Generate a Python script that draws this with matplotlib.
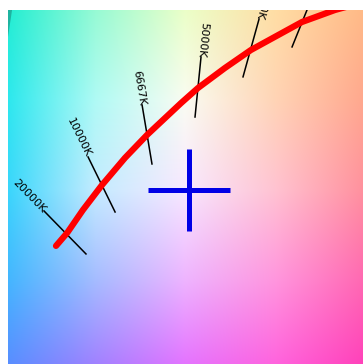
import numpy as np
import matplotlib
matplotlib.use('Agg')
import matplotlib.pyplot as plt
from matplotlib.patches import Polygon

# Planckian locus (CIE 1931 x, y)
locus_x = [0.2500, 0.2574, 0.2680, 0.2807, 0.2960, 0.3107, 0.3334, 0.3447,
           0.3627, 0.3800, 0.4140, 0.4360, 0.4600]
locus_y = [0.2483, 0.2568, 0.2720, 0.2884, 0.3062, 0.3213, 0.3423, 0.3522,
           0.3654, 0.3772, 0.3956, 0.4035, 0.4100]

# iso-temperature lines: label, (x, y) upper end, (x, y) lower end
iso_labels = ['20000K', '10000K', '6667K', '5000K', '4000K', '3333K']
iso_start = [(0.2420, 0.2713), (0.2714, 0.3068), (0.3074, 0.3410),
             (0.3467, 0.3726), (0.3854, 0.3976), (0.4224, 0.4158)]
iso_end = [(0.2700, 0.2430), (0.2894, 0.2706), (0.3140, 0.3022),
           (0.3427, 0.3331), (0.3747, 0.3595), (0.4074, 0.3792)]

# marked point
point_x = [0.3384]
point_y = [0.2851]

# darker patch at the top left corner
patch_x = [0.2180, 0.2207, 0.2180]
patch_y = [0.4035, 0.4035, 0.3858]

x_lim = (0.2180, 0.4547)
y_lim = (0.1706, 0.4035)

# diagram background colours sampled on a coarse grid (top row first)
bg_x = [0.2180, 0.2760, 0.3360, 0.3960, 0.4547]
bg_y = [0.4035, 0.3443, 0.2851, 0.2259, 0.1706]
bg_rgb = np.array([
    [(35, 238, 210), (150, 250, 212), (235, 255, 200), (255, 222, 165), (255, 186, 135)],
    [(45, 232, 238), (175, 250, 245), (250, 252, 242), (255, 212, 182), (255, 168, 142)],
    [(58, 214, 252), (195, 235, 255), (248, 232, 255), (255, 195, 210), (255, 145, 158)],
    [(68, 182, 255), (165, 188, 255), (238, 180, 255), (255, 150, 222), (255, 105, 178)],
    [(88, 142, 255), (160, 130, 255), (228, 116, 255), (255, 100, 222), (255, 66, 186)],
]) / 255.0


def background(nx=360, ny=360):
    gx = np.linspace(x_lim[0], x_lim[1], nx)
    gy = np.linspace(y_lim[1], y_lim[0], ny)
    # along x for every sampled row, then along y
    rows = np.stack([[np.interp(gx, bg_x, bg_rgb[r, :, c]) for c in range(3)]
                     for r in range(len(bg_y))])          # (rows, 3, nx)
    ys = bg_y[::-1]
    img = np.empty((ny, nx, 3))
    for c in range(3):
        for i in range(nx):
            img[:, i, c] = np.interp(gy, ys, rows[::-1, c, i])
    return img


fig = plt.figure(figsize=(3.63, 3.64), dpi=100)
ax = fig.add_axes([8 / 363, 0, 355 / 363, 354 / 364])
ax.set_xlim(*x_lim)
ax.set_ylim(*y_lim)
ax.axis('off')

ax.imshow(background(), origin='upper', extent=(*x_lim, *y_lim),
          aspect='auto', interpolation='bilinear', zorder=0)
ax.add_patch(Polygon(list(zip(patch_x, patch_y)), closed=True,
                     facecolor='#1fb3a0', edgecolor='none', zorder=1))

ax.plot(locus_x, locus_y, color='red', lw=4.5, solid_capstyle='round', zorder=3)

for label, p0, p1 in zip(iso_labels, iso_start, iso_end):
    ax.plot([p0[0], p1[0]], [p0[1], p1[1]], color='black', lw=1.1, zorder=2)
    d0 = ax.transData.transform(p0)
    d1 = ax.transData.transform(p1)
    angle = np.degrees(np.arctan2(d1[1] - d0[1], d1[0] - d0[0]))
    ax.text(p0[0], p0[1], label, rotation=angle, rotation_mode='anchor',
            ha='right', va='center', fontsize=8, clip_on=True, zorder=4)

ax.plot(point_x, point_y, marker='+', ms=59, mew=3.6, color='#0000e6',
        linestyle='none', zorder=5)

fig.savefig('out.png', dpi=100)
